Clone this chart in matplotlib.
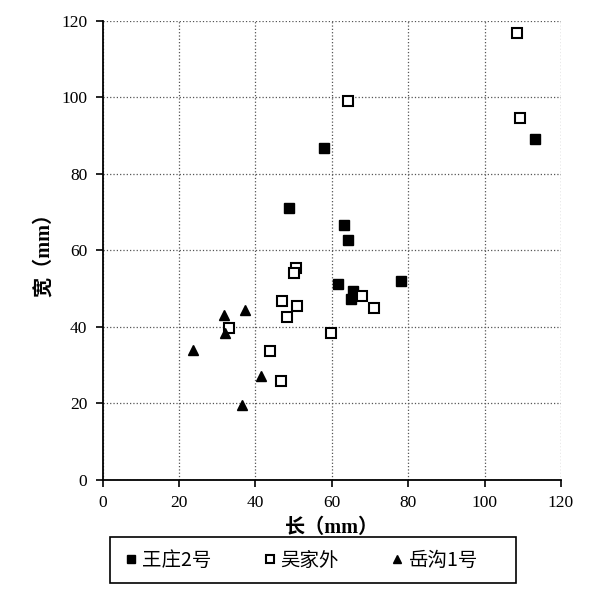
import matplotlib
matplotlib.use('Agg')
import matplotlib.pyplot as plt
from matplotlib.patches import Rectangle

plt.rcParams['font.family'] = ['Liberation Serif', 'Noto Sans CJK SC']

# 王庄2号
wz_x = [58.0, 48.8, 113.1, 63.3, 64.2, 61.6, 78.2, 65.5, 65.0]
wz_y = [86.8, 71.2, 89.1, 66.7, 62.7, 51.3, 52.0, 49.4, 47.2]
# 吴家外
wj_x = [108.5, 64.2, 109.3, 50.6, 50.1, 47.0, 50.9, 48.3, 33.0, 59.7, 43.8, 46.8, 67.9, 71.0]
wj_y = [116.8, 99.0, 94.7, 55.5, 54.0, 46.8, 45.5, 42.7, 39.7, 38.3, 33.7, 25.9, 48.0, 44.8]
# 岳沟1号
yg_x = [31.7, 37.4, 32.1, 23.7, 41.4, 36.4]
yg_y = [43.1, 44.4, 38.3, 33.9, 27.2, 19.5]

ticks = [0, 20, 40, 60, 80, 100, 120]

fig = plt.figure(figsize=(6.09, 5.93), dpi=100)
ax = fig.add_axes([0.1686, 0.191, 0.7524, 0.7736])

ax.plot(wz_x, wz_y, 's', color='black', markersize=7, label='王庄2号', clip_on=False)
ax.plot(wj_x, wj_y, 's', markerfacecolor='white', markeredgecolor='black', markeredgewidth=1.5,
        markersize=7, label='吴家外', clip_on=False)
ax.plot(yg_x, yg_y, '^', color='black', markersize=7, label='岳沟1号', clip_on=False)

ax.set_xlim(0, 120)
ax.set_ylim(0, 120)
ax.set_xticks(ticks)
ax.set_yticks(ticks)
ax.tick_params(direction='out', length=5, width=1.2, labelsize=12.5, pad=6)
ax.grid(True, linestyle=':', color='#555555', linewidth=0.9)
ax.set_axisbelow(True)
for s in ['top', 'right']:
    ax.spines[s].set_visible(False)
for s in ['left', 'bottom']:
    ax.spines[s].set_linewidth(1.3)

ax.set_xlabel('长（mm）', fontsize=14.5, fontweight='bold', labelpad=5)
ax.set_ylabel('宽（mm）', fontsize=14.5, fontweight='bold', labelpad=5)

leg = fig.legend(loc='center', bbox_to_anchor=(0.495, 0.0556),
                 bbox_transform=fig.transFigure, ncol=3,
                 prop={'family': 'Noto Sans CJK SC', 'size': 14},
                 markerscale=0.75, handlelength=0.6, handletextpad=0.27,
                 columnspacing=2.7, frameon=False, borderaxespad=0)

# legend box
fig.patches.append(Rectangle((110 / 609, 1 - 583 / 593), 406 / 609, 46 / 593,
                             transform=fig.transFigure, fill=False,
                             edgecolor='black', linewidth=1.2))

fig.savefig('out.png', dpi=100)
